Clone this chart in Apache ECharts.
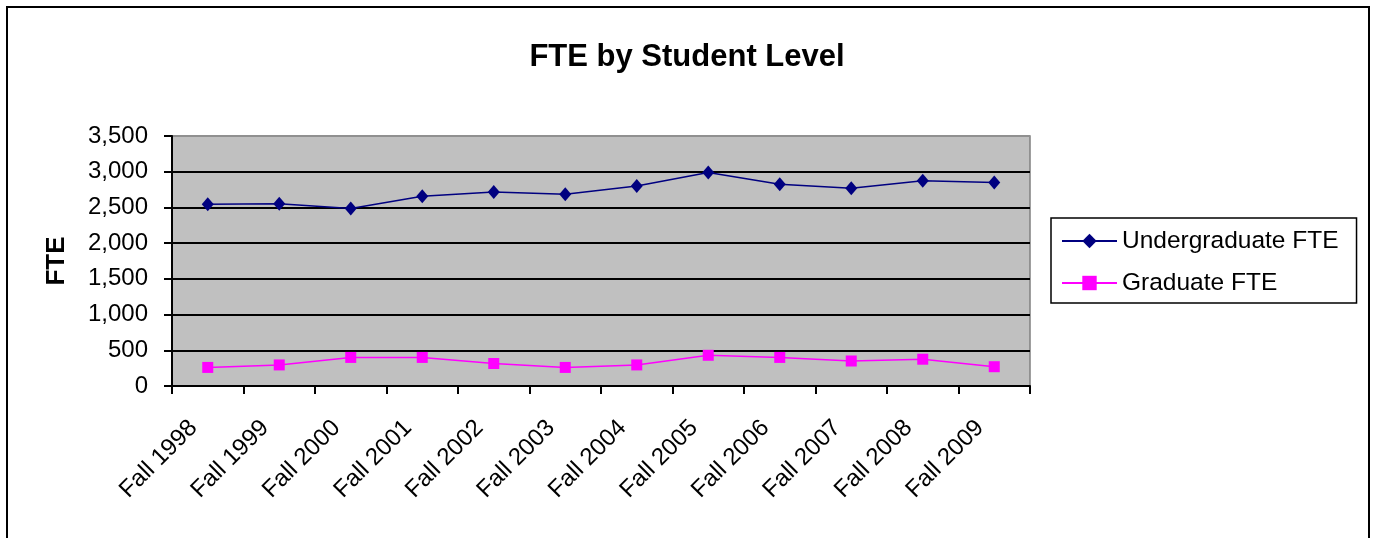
<!DOCTYPE html>
<html>
<head>
<meta charset="utf-8">
<script src="https://cdn.jsdelivr.net/npm/echarts@6/dist/echarts.min.js"></script>
<style>
html,body{margin:0;padding:0;background:#fff;}
#chart{width:1374px;height:538px;}
</style>
</head>
<body>
<div id="chart"></div>
<script>
var categories = ['Fall 1998','Fall 1999','Fall 2000','Fall 2001','Fall 2002','Fall 2003','Fall 2004','Fall 2005','Fall 2006','Fall 2007','Fall 2008','Fall 2009'];
var undergraduate = [2545, 2550, 2485, 2655, 2715, 2685, 2800, 2990, 2825, 2770, 2875, 2850];
var graduate = [260, 295, 400, 400, 315, 260, 295, 430, 400, 350, 375, 270];
var yTicks = [0, 500, 1000, 1500, 2000, 2500, 3000, 3500];

var chart = echarts.init(document.getElementById('chart'));
var font = '"Liberation Sans", Arial, sans-serif';
chart.setOption({
  animation: false,
  backgroundColor: '#ffffff',
  graphic: [{
    type: 'rect', left: 6, top: 6, z: -1,
    shape: {width: 1362, height: 560},
    style: {fill: '#ffffff', stroke: '#000000', lineWidth: 2}
  }],
  title: {
    text: 'FTE by Student Level',
    left: 'center', top: 37,
    textStyle: {fontFamily: font, fontSize: 31, fontWeight: 'bold', color: '#000'}
  },
  legend: {
    orient: 'vertical',
    left: 1051, top: 218,
    padding: [9, 18, 6, 10],
    itemGap: 14,
    itemWidth: 55, itemHeight: 18,
    borderColor: '#000', borderWidth: 1.5,
    backgroundColor: '#fff',
    textStyle: {fontFamily: font, fontSize: 24.5, lineHeight: 28, color: '#000'},
    data: ['Undergraduate FTE', 'Graduate FTE']
  },
  grid: {left: 172, right: 344, top: 136, bottom: 152, show: true, backgroundColor: '#c0c0c0', borderColor: '#808080', borderWidth: 1.5},
  xAxis: {
    type: 'category',
    data: categories,
    boundaryGap: true,
    axisLine: {lineStyle: {color: '#000', width: 2}},
    axisTick: {show: true, length: 8, lineStyle: {color: '#000', width: 2}},
    axisLabel: {rotate: 45, fontFamily: font, fontSize: 24, color: '#000', margin: 24, padding: [0, 20, 0, 0], interval: 0}
  },
  yAxis: {
    type: 'value',
    min: 0, max: 3500, interval: 500,
    name: 'FTE',
    nameLocation: 'middle',
    nameGap: 102,
    nameRotate: 90,
    nameTextStyle: {fontFamily: font, fontSize: 26, fontWeight: 'bold', color: '#000'},
    axisLine: {show: true, lineStyle: {color: '#000', width: 2}},
    axisTick: {show: true, length: 8, lineStyle: {color: '#000', width: 2}},
    splitLine: {show: true, lineStyle: {color: ['#000','#000','#000','#000','#000','#000','#000','#909090'], width: 2}},
    axisLabel: {
      fontFamily: font, fontSize: 24, color: '#000', margin: 24,
      formatter: function (v) { return yTicks.indexOf(v) >= 0 ? v.toLocaleString('en-US') : ''; }
    }
  },
  series: [
    {
      name: 'Undergraduate FTE', type: 'line', data: undergraduate,
      symbol: 'diamond', symbolSize: [12, 14],
      lineStyle: {color: '#000080', width: 1.5},
      itemStyle: {color: '#000080'}
    },
    {
      name: 'Graduate FTE', type: 'line', data: graduate,
      symbol: 'rect', symbolSize: 11,
      lineStyle: {color: '#ff00ff', width: 1.5},
      itemStyle: {color: '#ff00ff'}
    }
  ]
});
</script>
</body>
</html>
